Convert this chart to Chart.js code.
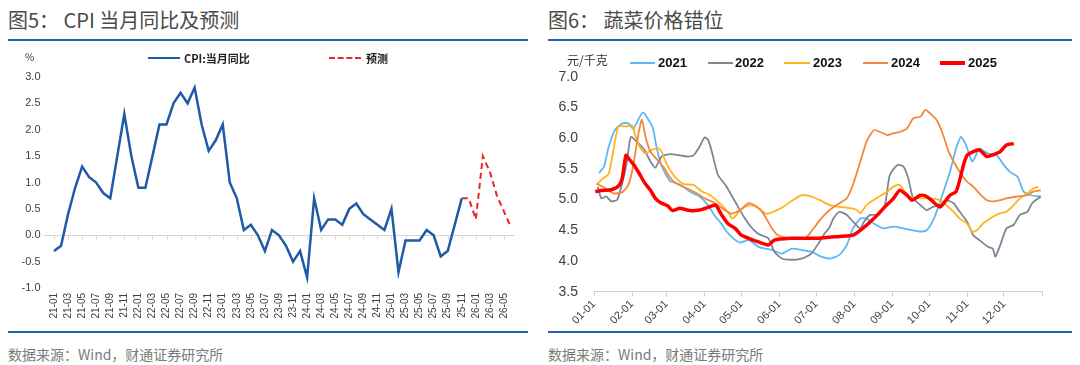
<!DOCTYPE html>
<html>
<head>
<meta charset="utf-8">
<script src="https://cdn.jsdelivr.net/npm/chart.js@4/dist/chart.umd.min.js"></script>
<style>
  html, body { margin: 0; padding: 0; background: #fff; }
  body { width: 1080px; height: 365px; position: relative; overflow: hidden;
         font-family: "Noto Sans CJK SC", "Noto Sans", sans-serif; }
  .abs { position: absolute; white-space: nowrap; }
  .title { font-size: 20px; color: #4a4a4a; line-height: 24px; top: 8px; }
  .rule { height: 2px; background: #1f62b4; }
  .src { font-size: 14px; color: #7a7a7a; line-height: 18px; top: 345px; }
  canvas { position: absolute; top: 60px; }
  .leg { font-size: 11px; line-height: 14px; color: #222; font-weight: bold; }
  .leg2 { font-family: "Liberation Sans", Arial, sans-serif; font-size: 13px; line-height: 16px;
          color: #111; font-weight: bold; top: 55px; }
  .ln { height: 0; }
</style>
</head>
<body>
<div class="abs title" style="left:8px">图5： CPI 当月同比及预测</div>
<div class="abs title" style="left:548px">图6： 蔬菜价格错位</div>
<div class="abs rule" style="left:8px;top:39px;width:520px"></div>
<div class="abs rule" style="left:548px;top:39px;width:524px"></div>

<canvas id="cpi" width="540" height="276" style="left:0"></canvas>
<canvas id="veg" width="540" height="276" style="left:540px"></canvas>

<div class="abs" style="left:25px;top:50px;font-size:10px;line-height:14px;color:#333">%</div>
<div class="abs ln" style="left:148px;top:57px;width:32px;border-top:2.5px solid #1f5aa6"></div>
<div class="abs leg" style="left:184px;top:51px">CPI:当月同比</div>
<div class="abs ln" style="left:329px;top:57px;width:32px;border-top:2px dashed #e8262d"></div>
<div class="abs leg" style="left:366px;top:51px">预测</div>

<div class="abs" style="left:567px;top:52px;font-size:12px;line-height:16px;color:#333">元/千克</div>
<div class="abs ln" style="left:630px;top:62px;width:25px;border-top:2px solid #5bb8f2"></div>
<div class="abs leg2" style="left:658px">2021</div>
<div class="abs ln" style="left:708px;top:62px;width:25px;border-top:2px solid #7d8794"></div>
<div class="abs leg2" style="left:735px">2022</div>
<div class="abs ln" style="left:784px;top:62px;width:26px;border-top:2px solid #ffb31f"></div>
<div class="abs leg2" style="left:813px">2023</div>
<div class="abs ln" style="left:863px;top:62px;width:25px;border-top:2px solid #f5873a"></div>
<div class="abs leg2" style="left:891px">2024</div>
<div class="abs ln" style="left:940px;top:61px;width:25px;border-top:4px solid #ff0000"></div>
<div class="abs leg2" style="left:968px">2025</div>

<div class="abs rule" style="left:8px;top:331px;width:520px"></div>
<div class="abs rule" style="left:548px;top:331px;width:524px"></div>
<div class="abs src" style="left:8px">数据来源：Wind，财通证券研究所</div>
<div class="abs src" style="left:548px">数据来源：Wind，财通证券研究所</div>

<script>
// ---- 图5 CPI 当月同比 (%), 2021-01 .. 2026-06
const MONTHS = [
  "21-01","21-02","21-03","21-04","21-05","21-06","21-07","21-08","21-09","21-10","21-11","21-12",
  "22-01","22-02","22-03","22-04","22-05","22-06","22-07","22-08","22-09","22-10","22-11","22-12",
  "23-01","23-02","23-03","23-04","23-05","23-06","23-07","23-08","23-09","23-10","23-11","23-12",
  "24-01","24-02","24-03","24-04","24-05","24-06","24-07","24-08","24-09","24-10","24-11","24-12",
  "25-01","25-02","25-03","25-04","25-05","25-06","25-07","25-08","25-09","25-10","25-11","25-12",
  "26-01","26-02","26-03","26-04","26-05","26-06"
];
const CPI_YOY = [
  -0.3, -0.2, 0.4, 0.9, 1.3, 1.1, 1.0, 0.8, 0.7, 1.5, 2.3, 1.5,
  0.9, 0.9, 1.5, 2.1, 2.1, 2.5, 2.7, 2.5, 2.8, 2.1, 1.6, 1.8,
  2.1, 1.0, 0.7, 0.1, 0.2, 0.0, -0.3, 0.1, 0.0, -0.2, -0.5, -0.3,
  -0.8, 0.7, 0.1, 0.3, 0.3, 0.2, 0.5, 0.6, 0.4, 0.3, 0.2, 0.1,
  0.5, -0.7, -0.1, -0.1, -0.1, 0.1, 0.0, -0.4, -0.3, 0.2, 0.7
];
// forecast starts at 25-11
const FORECAST_FROM = "25-11";
const FORECAST = [0.7, 0.7, 0.3, 1.5, 1.2, 0.75, 0.45, 0.15];
const Y_TICKS_CPI = [-1.0, -0.5, 0.0, 0.5, 1.0, 1.5, 2.0, 2.5, 3.0];

// ---- 图6 蔬菜价格 (元/千克), x = day of year
const MONTH_DAYS = [0, 31, 59, 90, 120, 151, 181, 212, 243, 273, 304, 334, 365];
const MONTH_LABELS = ["01-01","02-01","03-01","04-01","05-01","06-01","07-01","08-01","09-01","10-01","11-01","12-01",""];

const D2021 = [4,8,12,17,23,28,32,36,40,45,48,51,55,62,67,72,78,86,92,98,104,108,114,119,126,134,140,145,153,161,169,177,185,192,200,206,211,217,222,228,236,244,252,260,266,271,277,282,290,295,299,303,308,310,314,321,328,334,339,345,350,356,364];
const P2021 = [5.43,5.53,5.86,6.13,6.24,6.24,6.15,6.30,6.42,6.28,6.16,5.85,5.55,5.30,5.27,5.22,5.13,5.05,4.93,4.75,4.60,4.48,4.36,4.30,4.34,4.23,4.20,4.18,4.12,4.20,4.18,4.15,4.07,4.04,4.10,4.26,4.53,4.69,4.69,4.61,4.53,4.56,4.53,4.50,4.48,4.50,4.69,4.97,5.45,5.83,6.02,5.89,5.62,5.67,5.83,5.75,5.72,5.56,5.45,5.37,5.13,5.07,5.05];

const D2022 = [3,6,10,14,19,24,27,30,35,41,46,50,55,62,70,76,81,86,90,93,96,101,107,112,118,123,128,134,142,147,153,161,169,177,183,188,192,195,200,206,211,217,220,225,232,237,241,247,252,256,260,266,271,276,282,287,293,298,304,309,314,321,325,327,331,336,342,347,353,357,364];
const P2022 = [5.21,5.02,5.05,4.97,5.00,5.35,5.64,6.02,5.94,5.81,5.62,5.52,5.70,5.74,5.72,5.70,5.72,5.86,6.01,5.97,5.78,5.40,5.24,5.07,4.86,4.69,4.55,4.44,4.37,4.15,4.04,4.02,4.04,4.12,4.29,4.45,4.55,4.69,4.80,4.75,4.64,4.53,4.64,4.75,4.75,4.91,5.40,5.56,5.54,5.35,5.02,4.91,4.83,4.88,4.91,4.99,4.94,4.80,4.64,4.42,4.34,4.23,4.20,4.07,4.26,4.53,4.59,4.75,4.80,4.94,5.05];

const D2023 = [3,7,12,17,20,27,31,34,38,42,47,53,55,59,63,67,73,81,88,94,98,104,109,113,118,123,128,134,140,146,154,162,169,177,184,192,200,209,214,217,222,230,239,244,249,252,257,266,274,282,287,293,298,304,308,312,317,325,331,336,342,347,353,358,362];
const P2023 = [5.26,5.34,5.42,5.94,6.19,6.19,6.21,6.02,5.83,5.75,5.81,5.83,5.78,5.59,5.45,5.35,5.25,5.24,5.13,5.08,5.02,4.91,4.80,4.69,4.80,4.88,4.91,4.86,4.77,4.80,4.88,4.99,5.07,5.05,4.99,4.91,4.88,4.86,4.83,4.78,4.91,5.02,5.13,5.21,5.24,5.16,5.05,5.02,5.02,4.99,4.91,4.80,4.69,4.61,4.48,4.50,4.61,4.72,4.78,4.80,4.91,5.02,5.10,5.18,5.21];

const D2024 = [2,8,16,23,28,32,36,39,42,46,51,57,62,67,76,84,90,97,105,112,119,126,133,137,141,145,150,161,172,177,185,192,200,206,211,217,222,228,233,239,244,249,255,260,266,270,274,279,284,289,293,298,304,309,314,320,325,331,336,345,353,358,364];
const P2024 = [5.26,5.20,5.10,5.12,5.24,5.55,6.05,6.30,6.02,5.78,5.66,5.52,5.36,5.26,5.18,5.10,5.02,4.96,4.85,4.77,4.83,4.94,4.88,4.80,4.67,4.53,4.42,4.37,4.37,4.48,4.69,4.83,4.94,5.02,5.24,5.62,5.94,6.13,6.10,6.05,6.08,6.10,6.16,6.32,6.35,6.46,6.40,6.30,6.08,5.78,5.62,5.45,5.29,5.21,5.10,4.99,4.97,4.99,5.02,5.05,5.07,5.13,5.15];

const D2025 = [1,8,14,20,23,26,29,33,37,41,46,50,55,60,64,70,78,86,94,99,104,109,115,120,126,134,142,147,160,172,183,200,211,219,228,236,244,249,255,259,266,271,276,282,290,295,298,301,304,309,314,320,324,331,336,342];
const P2025 = [5.13,5.15,5.16,5.22,5.35,5.72,5.65,5.55,5.42,5.28,5.15,5.02,4.94,4.90,4.82,4.86,4.82,4.83,4.88,4.91,4.75,4.61,4.53,4.42,4.37,4.31,4.26,4.34,4.37,4.37,4.37,4.40,4.42,4.53,4.69,4.86,5.02,5.15,5.07,4.99,5.07,5.05,4.97,4.88,5.07,5.13,5.32,5.56,5.72,5.78,5.81,5.70,5.72,5.78,5.89,5.91];

const TICK_COLOR = "#404040";

function pairs(days, vals) {
  return days.map((d, i) => ({ x: d, y: vals[i] }));
}

// zero line + little ticks under it at labelled months
const zeroAxis = {
  id: "zeroAxis",
  beforeDatasetsDraw(chart) {
    const { ctx, chartArea, scales: { x, y } } = chart;
    const y0 = Math.round(y.getPixelForValue(0)) + 0.5;
    ctx.save();
    ctx.strokeStyle = "#d6d6d6";
    ctx.lineWidth = 1;
    ctx.beginPath();
    ctx.moveTo(chartArea.left - 7, y0);
    ctx.lineTo(chartArea.right, y0);
    for (let i = 0; i < MONTHS.length; i += 2) {
      const px = Math.round(x.getPixelForValue(i)) + 0.5;
      ctx.moveTo(px, y0);
      ctx.lineTo(px, y0 + 4);
    }
    ctx.stroke();
    ctx.restore();
  }
};

const startIdx = MONTHS.indexOf(FORECAST_FROM);
const forecastData = MONTHS.map((m, i) =>
  i >= startIdx && i - startIdx < FORECAST.length ? FORECAST[i - startIdx] : null);

new Chart(document.getElementById("cpi"), {
  type: "line",
  data: {
    labels: MONTHS,
    datasets: [
      { label: "CPI:当月同比", data: CPI_YOY, borderColor: "#1f5aa6", borderWidth: 2.5,
        pointRadius: 0, tension: 0 },
      { label: "预测", data: forecastData, borderColor: "#e8262d", borderWidth: 2,
        borderDash: [6, 4], pointRadius: 0, tension: 0, spanGaps: false }
    ]
  },
  options: {
    responsive: false,
    animation: false,
    layout: { padding: { top: 17, right: 25.5, left: 0, bottom: 0 } },
    plugins: { legend: { display: false }, tooltip: { enabled: false } },
    scales: {
      x: {
        offset: true,
        grid: { display: false, drawTicks: false },
        border: { display: false },
        ticks: {
          autoSkip: false, minRotation: 90, maxRotation: 90, padding: 5,
          color: TICK_COLOR, font: { size: 10, family: "'Liberation Sans', Arial, sans-serif" },
          callback: (v, i) => (i % 2 === 0 ? MONTHS[i] : "")
        },
        afterFit: s => { s.height = 48; }
      },
      y: {
        min: -1, max: 3,
        afterBuildTicks: s => { s.ticks = Y_TICKS_CPI.map(v => ({ value: v })); },
        grid: { display: false, drawTicks: true, tickLength: 5 },
        border: { display: false },
        ticks: {
          padding: 5, color: TICK_COLOR,
          font: { size: 11, family: "'Liberation Sans', Arial, sans-serif" },
          callback: v => v.toFixed(1)
        },
        afterFit: s => { s.width = 50.5; }
      }
    }
  },
  plugins: [zeroAxis]
});

new Chart(document.getElementById("veg"), {
  type: "line",
  data: {
    datasets: [
      { label: "2025", data: pairs(D2025, P2025), borderColor: "#ff0000", borderWidth: 3.5, order: 0 },
      { label: "2024", data: pairs(D2024, P2024), borderColor: "#f5873a", borderWidth: 1.8, order: 1 },
      { label: "2023", data: pairs(D2023, P2023), borderColor: "#ffb31f", borderWidth: 1.8, order: 2 },
      { label: "2022", data: pairs(D2022, P2022), borderColor: "#7d8794", borderWidth: 1.8, order: 3 },
      { label: "2021", data: pairs(D2021, P2021), borderColor: "#5bb8f2", borderWidth: 1.8, order: 4 }
    ]
  },
  options: {
    responsive: false,
    animation: false,
    elements: { point: { radius: 0 }, line: { tension: 0.2 } },
    layout: { padding: { top: 16.7, right: 38, left: 0, bottom: 0 } },
    plugins: { legend: { display: false }, tooltip: { enabled: false } },
    scales: {
      x: {
        type: "linear", min: 0, max: 365,
        afterBuildTicks: s => { s.ticks = MONTH_DAYS.map(v => ({ value: v })); },
        grid: { drawOnChartArea: false, color: "#d0d0d0", tickLength: 5 },
        border: { color: "#d0d0d0" },
        ticks: {
          autoSkip: false, minRotation: 45, maxRotation: 45, padding: 1,
          color: TICK_COLOR, font: { size: 11, family: "'Liberation Sans', Arial, sans-serif" },
          callback: (v, i) => MONTH_LABELS[i]
        },
        afterFit: s => { s.height = 44.3; }
      },
      y: {
        min: 3.5, max: 7.0,
        ticks: {
          stepSize: 0.5, padding: 8, color: TICK_COLOR,
          font: { size: 14, family: "'Liberation Sans', Arial, sans-serif" },
          callback: v => v.toFixed(1)
        },
        grid: { display: false, drawTicks: true, tickLength: 8 },
        border: { display: false },
        afterFit: s => { s.width = 54; }
      }
    }
  }
});
</script>
</body>
</html>
